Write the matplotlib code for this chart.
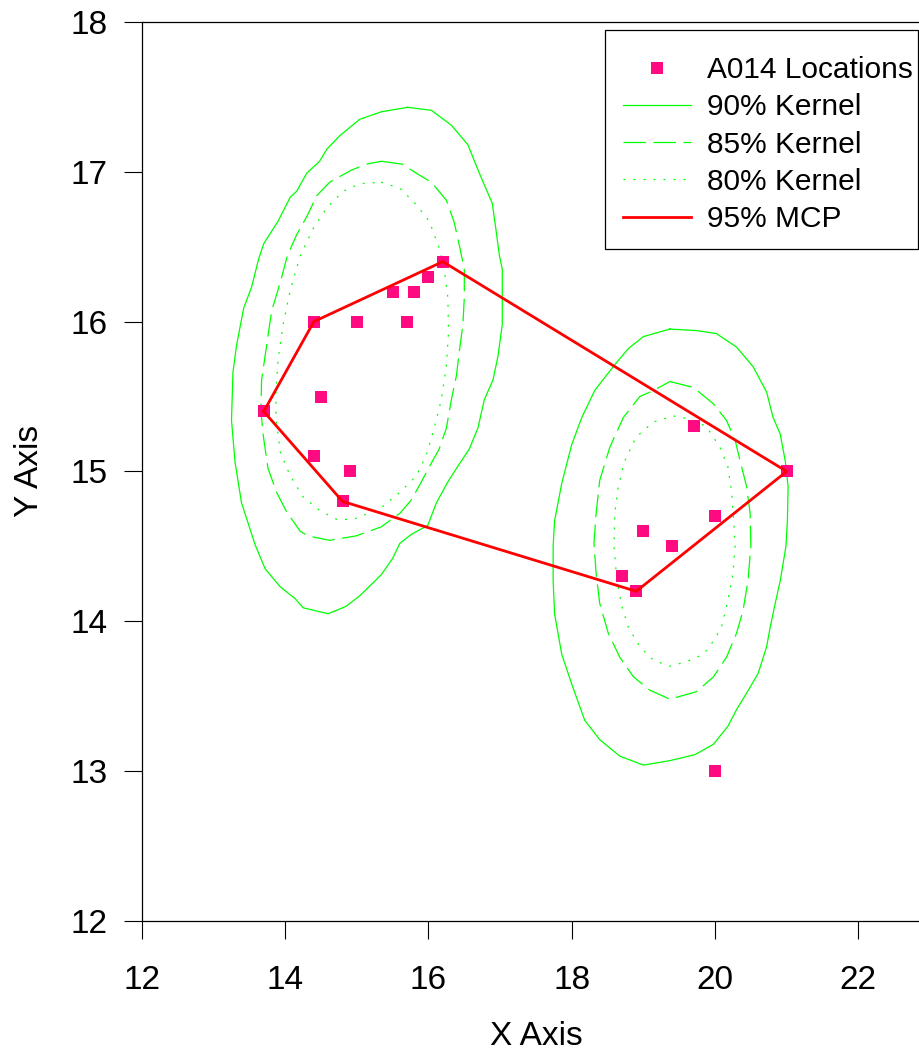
import matplotlib
matplotlib.use("Agg")
import matplotlib.pyplot as plt
from matplotlib.patches import Rectangle

plt.rcParams['font.family'] = ['Liberation Sans', 'DejaVu Sans']

# animal relocations
loc_x = [16.2, 16.0, 15.5, 15.8, 14.4, 15.0, 15.7, 14.5, 13.7, 14.4, 14.9, 14.8,
         19.7, 21.0, 20.0, 19.0, 19.4, 18.7, 18.9, 20.0]
loc_y = [16.4, 16.3, 16.2, 16.2, 16.0, 16.0, 16.0, 15.5, 15.4, 15.1, 15.0, 14.8,
         15.3, 15.0, 14.7, 14.6, 14.5, 14.3, 14.2, 13.0]

# 95% minimum convex polygon
mcp_x = [13.7, 14.4, 16.2, 21.0, 18.9, 14.8, 13.7]
mcp_y = [15.4, 16.0, 16.4, 15.0, 14.2, 14.8, 15.4]

# kernel isopleths, west cluster
k90w_x = [15.71, 16.04, 16.32, 16.55, 16.71, 16.89, 16.94, 16.99, 17.03, 17.03, 16.97, 16.90,
          16.78, 16.69, 16.57, 16.39, 16.27, 16.11, 15.99, 15.76, 15.60, 15.50, 15.34, 15.04,
          14.85, 14.60, 14.25, 14.14, 13.93, 13.72, 13.58, 13.39, 13.30, 13.25, 13.27, 13.32,
          13.42, 13.53, 13.63, 13.70, 13.90, 14.07, 14.16, 14.30, 14.48, 14.58, 14.76, 15.04,
          15.34, 15.71]
k90w_y = [17.43, 17.41, 17.31, 17.18, 16.99, 16.79, 16.62, 16.44, 16.35, 15.98, 15.77, 15.61,
          15.48, 15.29, 15.15, 15.02, 14.93, 14.79, 14.64, 14.58, 14.52, 14.42, 14.31, 14.17,
          14.10, 14.05, 14.09, 14.15, 14.23, 14.35, 14.51, 14.79, 15.06, 15.34, 15.66, 15.84,
          16.09, 16.23, 16.42, 16.52, 16.67, 16.83, 16.87, 16.99, 17.07, 17.15, 17.24, 17.35,
          17.40, 17.43]

k85w_x = [15.34, 15.64, 15.83, 16.04, 16.25, 16.36, 16.43, 16.50, 16.50, 16.48, 16.43, 16.39,
          16.32, 16.25, 16.15, 16.01, 15.90, 15.76, 15.60, 15.34, 14.99, 14.62, 14.32, 14.21,
          14.02, 13.88, 13.76, 13.69, 13.66, 13.67, 13.74, 13.81, 13.93, 14.03, 14.16, 14.30,
          14.44, 14.62, 14.92, 15.13, 15.34]
k85w_y = [17.07, 17.05, 16.99, 16.93, 16.81, 16.66, 16.51, 16.35, 16.16, 15.98, 15.80, 15.64,
          15.48, 15.29, 15.15, 15.03, 14.93, 14.81, 14.72, 14.63, 14.57, 14.54, 14.57, 14.60,
          14.73, 14.86, 15.02, 15.25, 15.41, 15.61, 15.84, 16.07, 16.26, 16.44, 16.58, 16.70,
          16.84, 16.93, 17.01, 17.05, 17.07]

k80w_x = [15.34, 15.60, 15.83, 16.01, 16.15, 16.22, 16.27, 16.28, 16.25, 16.18, 16.08, 15.97,
          15.83, 15.60, 15.32, 14.95, 14.72, 14.48, 14.25, 14.07, 13.93, 13.87, 13.87, 13.90,
          13.97, 14.07, 14.21, 14.39, 14.58, 14.81, 15.04, 15.34]
k80w_y = [16.93, 16.89, 16.78, 16.67, 16.49, 16.35, 16.16, 15.93, 15.71, 15.48, 15.29, 15.11,
          14.97, 14.86, 14.75, 14.68, 14.68, 14.74, 14.83, 14.97, 15.13, 15.36, 15.52, 15.75,
          15.98, 16.21, 16.44, 16.62, 16.76, 16.87, 16.92, 16.93]

# kernel isopleths, east cluster
k90e_x = [19.37, 19.74, 20.02, 20.30, 20.53, 20.72, 20.81, 20.91, 20.98, 21.02, 21.01, 20.99,
          20.91, 20.84, 20.77, 20.72, 20.60, 20.44, 20.30, 20.18, 19.98, 19.72, 19.37, 19.00,
          18.67, 18.39, 18.18, 18.00, 17.86, 17.76, 17.74, 17.74, 17.76, 17.86, 17.93, 18.00,
          18.14, 18.32, 18.58, 18.79, 19.00, 19.37]
k90e_y = [15.95, 15.94, 15.92, 15.83, 15.70, 15.53, 15.36, 15.25, 15.07, 14.90, 14.67, 14.50,
          14.27, 14.12, 13.96, 13.83, 13.65, 13.52, 13.41, 13.30, 13.18, 13.11, 13.07, 13.04,
          13.10, 13.21, 13.34, 13.58, 13.78, 14.05, 14.27, 14.50, 14.67, 14.92, 15.05, 15.18,
          15.36, 15.54, 15.70, 15.82, 15.90, 15.95]

k85e_x = [19.37, 19.70, 19.98, 20.16, 20.28, 20.35, 20.44, 20.49, 20.50, 20.46, 20.39, 20.30,
          20.16, 19.98, 19.74, 19.37, 19.09, 18.86, 18.67, 18.51, 18.39, 18.34, 18.31, 18.34,
          18.39, 18.53, 18.72, 18.95, 19.14, 19.37]
k85e_y = [15.60, 15.56, 15.45, 15.34, 15.21, 15.07, 14.90, 14.72, 14.50, 14.27, 14.07, 13.92,
          13.76, 13.63, 13.53, 13.48, 13.54, 13.63, 13.76, 13.92, 14.12, 14.32, 14.52, 14.72,
          14.94, 15.16, 15.36, 15.50, 15.54, 15.60]

k80e_x = [19.42, 19.65, 19.88, 20.07, 20.18, 20.23, 20.26, 20.28, 20.25, 20.18, 20.09, 19.98,
          19.84, 19.60, 19.37, 19.14, 18.95, 18.79, 18.70, 18.63, 18.59, 18.60, 18.65, 18.74,
          18.90, 19.14, 19.42]
k80e_y = [15.37, 15.35, 15.30, 15.16, 15.03, 14.87, 14.67, 14.50, 14.32, 14.14, 13.96, 13.87,
          13.78, 13.73, 13.70, 13.74, 13.83, 13.96, 14.10, 14.27, 14.50, 14.72, 14.90, 15.07,
          15.23, 15.33, 15.37]

green = '#00ff00'
pink = '#ff0a80'
dashed = (0, (18, 6))
dotted = (0, (1.5, 6.5))

fig = plt.figure(figsize=(9.2, 10.53), dpi=100)
# axes run past the right edge of the page, as in the exported graph
ax = fig.add_axes([0.1543, 0.1254, 0.8565, 0.8538])

ax.plot(loc_x, loc_y, 's', color=pink, markersize=8.5, markeredgewidth=0,
        label='A014 Locations', zorder=3)
ax.plot(k90w_x, k90w_y, color=green, lw=0.9, label='90% Kernel')
ax.plot(k85w_x, k85w_y, color=green, lw=0.9, ls=dashed, label='85% Kernel')
ax.plot(k80w_x, k80w_y, color=green, lw=0.9, ls=dotted, label='80% Kernel')
ax.plot(k90e_x, k90e_y, color=green, lw=0.9)
ax.plot(k85e_x, k85e_y, color=green, lw=0.9, ls=dashed)
ax.plot(k80e_x, k80e_y, color=green, lw=0.9, ls=dotted)
ax.plot(mcp_x, mcp_y, color='#ff0000', lw=2.0, label='95% MCP', zorder=4)

ax.set_xlim(12, 23)
ax.set_ylim(12, 18)
ax.set_xticks([12, 14, 16, 18, 20, 22])
ax.set_yticks([12, 13, 14, 15, 16, 17, 18])
ax.tick_params(direction='out', length=13, width=0.8, labelsize=24)
ax.tick_params(axis='x', pad=19)
ax.tick_params(axis='y', pad=12)
ax.spines['right'].set_visible(False)
for s in ['left', 'bottom', 'top']:
    ax.spines[s].set_linewidth(0.9)

ax.set_xlabel('X Axis', fontsize=24, labelpad=18)
ax.set_ylabel('Y Axis', fontsize=24, labelpad=18)

# legend entries without their own frame; the box is drawn separately
leg = ax.legend(loc='upper left', bbox_to_anchor=(623 / 920, 1 - 56 / 1053),
                bbox_transform=fig.transFigure, fontsize=21.5, frameon=False,
                handlelength=2.27, handletextpad=0.53, labelspacing=0.31,
                borderpad=0, borderaxespad=0, numpoints=1)
fig.patches.append(Rectangle((605 / 920, 1 - 249 / 1053), 313 / 920, 219 / 1053,
                             transform=fig.transFigure, fill=False,
                             edgecolor='black', lw=0.9, zorder=5))

fig.savefig('out.png', dpi=100)
